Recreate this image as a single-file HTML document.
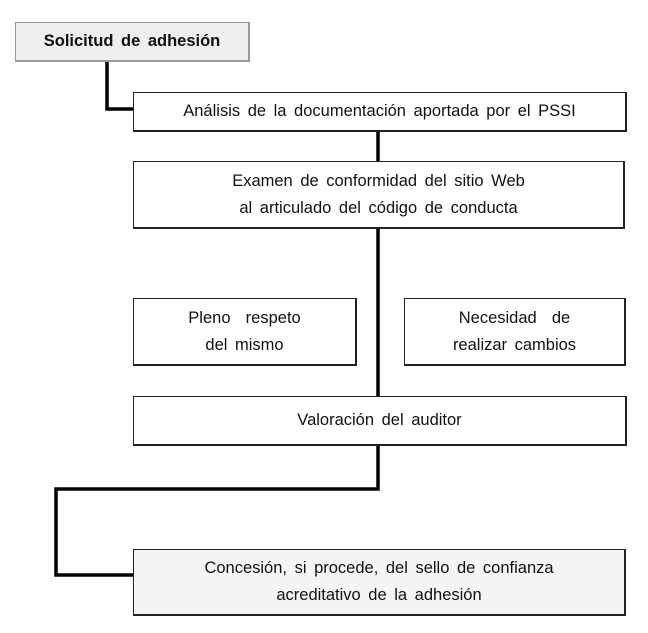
<!DOCTYPE html>
<html><head><meta charset="utf-8"><style>
body{margin:0;width:648px;height:633px;background:#fff;position:relative;overflow:hidden;font-family:"Liberation Sans","NanumGothic",sans-serif;}
.b{position:absolute;box-sizing:border-box;border:1.5px solid #222;border-right-width:2px;border-bottom-width:2px;display:flex;align-items:center;justify-content:center;text-align:center;font-size:16.5px;line-height:27px;color:#111;word-spacing:3px;}
</style></head><body>
<svg width="648" height="633" style="position:absolute;left:0;top:0">
<g stroke="#000" stroke-width="3.5" fill="none">
<polyline points="107,61 107,109 134,109"/>
<line x1="378" y1="131" x2="378" y2="162"/>
<line x1="378" y1="228" x2="378" y2="397"/>
<polyline points="378,445 378,489 56,489 56,575 134,575"/>
</g></svg>
<div class="b" style="left:15px;top:22px;width:235px;height:40px;background:#eeeeee;border-color:#999;font-weight:bold;">Solicitud de adhesión</div>
<div class="b" style="left:133px;top:92px;width:494px;height:40px;background:#fff">Análisis de la documentación aportada por el PSSI</div>
<div class="b" style="left:133px;top:161px;width:492px;height:68px;background:#fff">Examen de conformidad del sitio Web<br>al articulado del código de conducta</div>
<div class="b" style="left:133px;top:298px;width:224px;height:68px;background:#fff">Pleno &nbsp;respeto<br>del mismo</div>
<div class="b" style="left:404px;top:298px;width:222px;height:68px;background:#fff">Necesidad &nbsp;de<br>realizar cambios</div>
<div class="b" style="left:133px;top:396px;width:494px;height:50px;background:#fff">Valoración del auditor</div>
<div class="b" style="left:133px;top:549px;width:493px;height:67px;background:#f5f5f5">Concesión, si procede, del sello de confianza<br>acreditativo de la adhesión</div>
</body></html>
